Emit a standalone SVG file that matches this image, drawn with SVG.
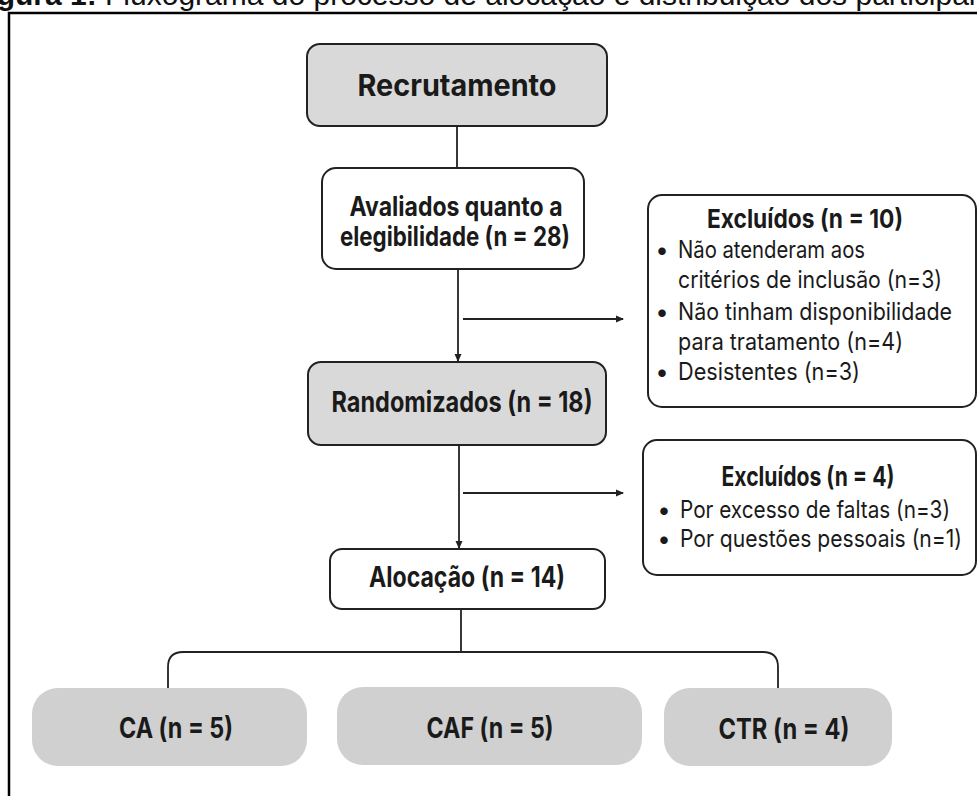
<svg xmlns="http://www.w3.org/2000/svg" width="977" height="796" viewBox="0 0 977 796">
<defs>
<style>
.frame{fill:none;stroke:#000;stroke-width:2.5}
.gbox{fill:#d9d9d9;stroke:#222;stroke-width:2}
.wbox{fill:#fff;stroke:#222;stroke-width:2}
.pill{fill:#d0d0d0;stroke:none}
.ln{fill:none;stroke:#222;stroke-width:1.8}
.b{font-family:Inter,"Noto Sans",sans-serif;font-weight:700;fill:#1a1a1a}
.r{font-family:Inter,"Noto Sans",sans-serif;font-weight:400;fill:#1a1a1a}
.t{font-family:"Liberation Sans",Arial,sans-serif;font-size:30px;fill:#111}
</style>
<marker id="ah" markerWidth="8" markerHeight="8" refX="7" refY="4" orient="auto" markerUnits="userSpaceOnUse">
<path d="M0,0.5 L8,4 L0,7.5 z" fill="#222"/>
</marker>
</defs>
<rect width="977" height="796" fill="#fff"/>
<text class="t" x="-30" y="5"><tspan font-weight="700">Figura 1:</tspan> Fluxograma do processo de alocação e distribuição dos participantes</text>
<rect class="frame" x="9" y="13" width="1100" height="900"/>
<g id="connectors">
<path class="ln" d="M457,126 V168"/>
<path class="ln" d="M458,269 V361" marker-end="url(#ah)"/>
<path class="ln" d="M463,319 H623" marker-end="url(#ah)"/>
<path class="ln" d="M459,445 V548" marker-end="url(#ah)"/>
<path class="ln" d="M463,493 H623" marker-end="url(#ah)"/>
<path class="ln" d="M461,609 V652"/>
<path class="ln" d="M168,688 V667 Q168,652 183,652 H763 Q778,652 778,667 V688"/>
</g>
<g id="recrutamento">
<rect class="gbox" x="307" y="44" width="300" height="82" rx="13"/>
<text class="b" x="457" y="96" font-size="30" text-anchor="middle" textLength="199" lengthAdjust="spacingAndGlyphs">Recrutamento</text>
</g>
<g id="avaliados">
<rect class="wbox" x="322" y="168" width="262" height="101" rx="14"/>
<text class="b" x="456" y="216" font-size="27" text-anchor="middle" textLength="213" lengthAdjust="spacingAndGlyphs">Avaliados quanto a</text>
<text class="b" x="455" y="246" font-size="27" text-anchor="middle" textLength="230" lengthAdjust="spacingAndGlyphs">elegibilidade (n = 28)</text>
</g>
<g id="excluidos10">
<rect class="wbox" x="648" y="195" width="328" height="212" rx="14"/>
<text class="b" x="805" y="228" font-size="26" text-anchor="middle" textLength="196" lengthAdjust="spacingAndGlyphs">Excluídos (n = 10)</text>
<text class="r" x="662" y="258" font-size="24" text-anchor="middle">•</text>
<text class="r" x="678" y="258" font-size="24" textLength="187" lengthAdjust="spacingAndGlyphs">Não atenderam aos</text>
<text class="r" x="678" y="288" font-size="24" textLength="264" lengthAdjust="spacingAndGlyphs">critérios de inclusão (n=3)</text>
<text class="r" x="662" y="320" font-size="24" text-anchor="middle">•</text>
<text class="r" x="678" y="320" font-size="24" textLength="274" lengthAdjust="spacingAndGlyphs">Não tinham disponibilidade</text>
<text class="r" x="678" y="350" font-size="24" textLength="225" lengthAdjust="spacingAndGlyphs">para tratamento (n=4)</text>
<text class="r" x="662" y="380" font-size="24" text-anchor="middle">•</text>
<text class="r" x="678" y="380" font-size="24" textLength="182" lengthAdjust="spacingAndGlyphs">Desistentes (n=3)</text>
</g>
<g id="randomizados">
<rect class="gbox" x="308" y="362" width="298" height="83" rx="13"/>
<text class="b" x="462" y="412" font-size="29" text-anchor="middle" textLength="261" lengthAdjust="spacingAndGlyphs">Randomizados (n = 18)</text>
</g>
<g id="excluidos4">
<rect class="wbox" x="643" y="440" width="333" height="135" rx="14"/>
<text class="b" x="808" y="486" font-size="27" text-anchor="middle" textLength="173" lengthAdjust="spacingAndGlyphs">Excluídos (n = 4)</text>
<text class="r" x="664" y="518" font-size="24" text-anchor="middle">•</text>
<text class="r" x="680" y="518" font-size="24" textLength="270" lengthAdjust="spacingAndGlyphs">Por excesso de faltas (n=3)</text>
<text class="r" x="664" y="547" font-size="24" text-anchor="middle">•</text>
<text class="r" x="680" y="547" font-size="24" textLength="282" lengthAdjust="spacingAndGlyphs">Por questões pessoais (n=1)</text>
</g>
<g id="alocacao">
<rect class="wbox" x="330" y="549" width="275" height="60" rx="12"/>
<text class="b" x="467" y="587" font-size="28" text-anchor="middle" textLength="196" lengthAdjust="spacingAndGlyphs">Alocação (n = 14)</text>
</g>
<g id="ca">
<rect class="pill" x="32" y="688" width="275" height="78" rx="26"/>
<text class="b" x="176" y="738" font-size="28" text-anchor="middle" textLength="114" lengthAdjust="spacingAndGlyphs">CA (n = 5)</text>
</g>
<g id="caf">
<rect class="pill" x="337" y="687" width="305" height="78" rx="26"/>
<text class="b" x="490" y="738" font-size="28" text-anchor="middle" textLength="127" lengthAdjust="spacingAndGlyphs">CAF (n = 5)</text>
</g>
<g id="ctr">
<rect class="pill" x="664" y="688" width="228" height="78" rx="26"/>
<text class="b" x="784" y="739" font-size="28" text-anchor="middle" textLength="131" lengthAdjust="spacingAndGlyphs">CTR (n = 4)</text>
</g>
</svg>
